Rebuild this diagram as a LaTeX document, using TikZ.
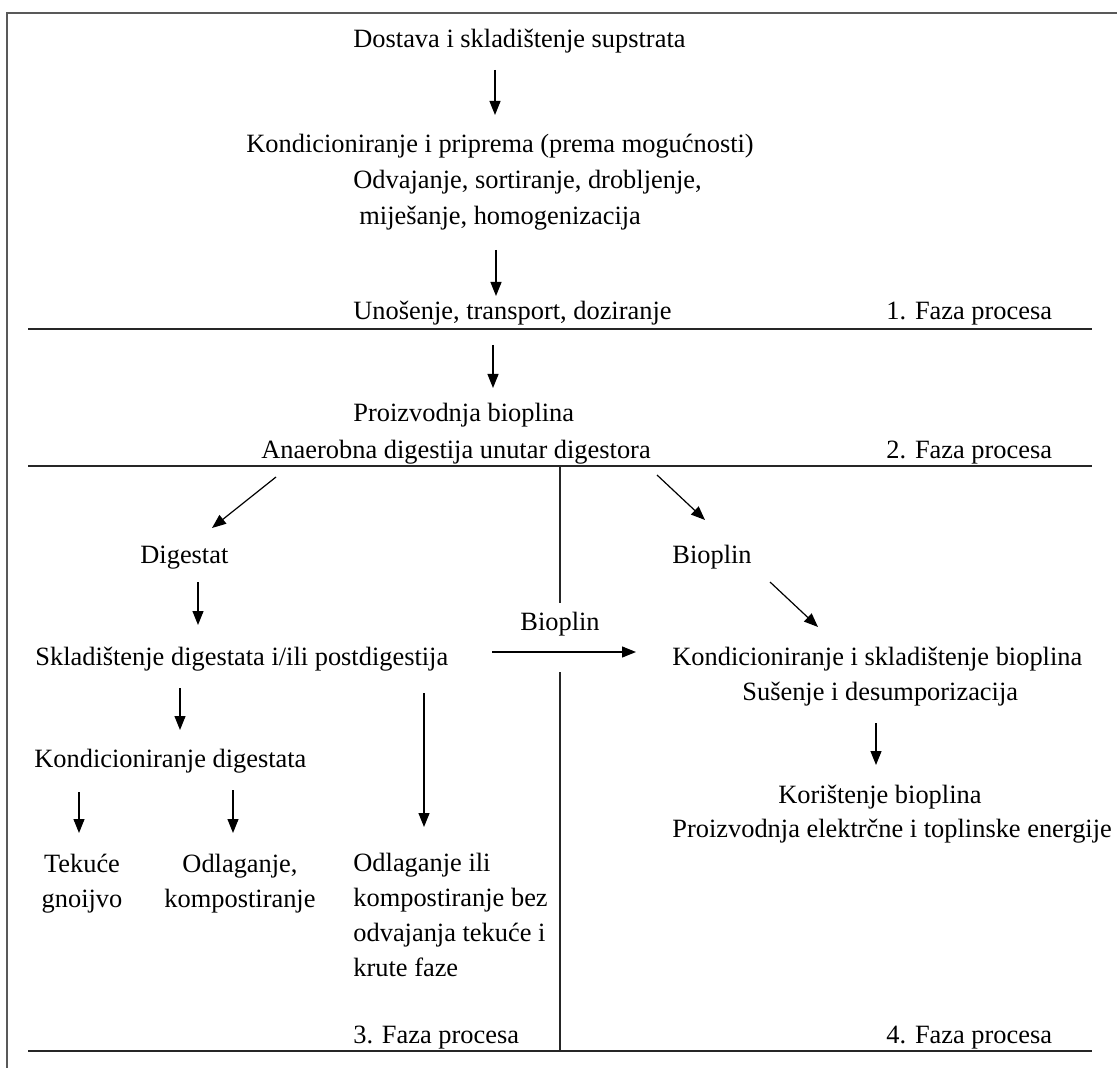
\documentclass[tikz,border=0pt]{standalone}
\usepackage{fontspec}
\setmainfont{Liberation Serif}
\usepackage{xcolor}
\usetikzlibrary{arrows.meta,positioning}
\tikzset{
  txt/.style={anchor=base west, inner sep=0pt, font=\fontsize{13.2}{17.4}\selectfont},
  ctxt/.style={txt, anchor=base, align=center},
  ltxt/.style={txt, align=left},
  arr/.style={-{Triangle[length=7pt,width=5.5pt]}, line width=0.6pt},
  divider/.style={line width=0.8pt, draw=black!85},
  frame/.style={line width=1pt, draw=black!65}
}

\begin{document}
\begin{tikzpicture}[x=0.5pt, y=-0.5pt]
  \useasboundingbox (0,0) rectangle (1117,1068);
  % frame and phase dividers
  \draw[frame] (1117,13) -- (7,13) -- (7,1068);
  \draw[divider] (28,329) -- (1092,329);
  \draw[divider] (28,466) -- (1092,466);
  \draw[divider] (28,1051) -- (1092,1051);
  \draw[divider] (560,466) -- (560,603);
  \draw[divider] (560,672) -- (560,1051);

  % phase 1
  \node[txt] (deliver) at (353,48) {Dostava i skladištenje supstrata};
  \node[txt] (prep) at (246,153) {Kondicioniranje i priprema (prema mogućnosti)};
  \node[txt] (prepa) at (353,189) {Odvajanje, sortiranje, drobljenje,};
  \node[txt] (prepb) at (359,225) {miješanje, homogenizacija};
  \node[txt] (feed) at (353,320) {Unošenje, transport, doziranje};
  \node[txt] (phase1) at (886,320) {1. Faza procesa};

  % phase 2
  \node[txt] (prod) at (353,422) {Proizvodnja bioplina};
  \node[txt] (proda) at (261,459) {Anaerobna digestija unutar digestora};
  \node[txt] (phase2) at (886,459) {2. Faza procesa};

  % phase 3 and 4
  \node[txt] (digestat) at (140,563) {Digestat};
  \node[txt] (biogas) at (672,563) {Bioplin};
  \node[txt] (biogasmid) at (520,630) {Bioplin};
  \node[txt] (store) at (35,665) {Skladištenje digestata i/ili postdigestija};
  \node[txt] (gascond) at (672,665) {Kondicioniranje i skladištenje bioplina};
  \node[txt] (gasdry) at (742,700) {Sušenje i desumporizacija};
  \node[txt] (digcond) at (34,767) {Kondicioniranje digestata};
  \node[txt] (gasuse) at (778,803) {Korištenje bioplina};
  \node[txt] (gasusea) at (672,837) {Proizvodnja elektrčne i toplinske energije};
  % base of a multi-line node sits on its last line
  \node[ctxt] (liquid) at (82,907) {Tekuće\\gnoijvo};
  \node[ctxt] (compost) at (240,907) {Odlaganje,\\kompostiranje};
  \node[ltxt] (nosep) at (353,976) {Odlaganje ili\\kompostiranje bez\\odvajanja tekuće i\\krute faze};
  \node[txt] (phase3) at (353,1043) {3. Faza procesa};
  \node[txt] (phase4) at (886,1043) {4. Faza procesa};

  % arrow ends
  \coordinate (a1) at (495,70);   \coordinate (b1) at (495,115);
  \coordinate (a2) at (496,250);  \coordinate (b2) at (496,296);
  \coordinate (a3) at (493,345);  \coordinate (b3) at (493,388);
  \coordinate (a4) at (276,477);  \coordinate (b4) at (212,528);
  \coordinate (a5) at (657,475);  \coordinate (b5) at (705,520);
  \coordinate (a6) at (198,582);  \coordinate (b6) at (198,625);
  \coordinate (a7) at (770,582);  \coordinate (b7) at (818,627);
  \coordinate (a8) at (492,652);  \coordinate (b8) at (636,652);
  \coordinate (a9) at (180,688);  \coordinate (b9) at (180,730);
  \coordinate (a10) at (424,693); \coordinate (b10) at (424,827);
  \coordinate (a11) at (876,723); \coordinate (b11) at (876,765);
  \coordinate (a12) at (79,792);  \coordinate (b12) at (79,833);
  \coordinate (a13) at (233,790); \coordinate (b13) at (233,833);

  \draw[arr] (a1) -- (b1);
  \draw[arr] (a2) -- (b2);
  \draw[arr] (a3) -- (b3);
  \draw[arr] (a4) -- (b4);
  \draw[arr] (a5) -- (b5);
  \draw[arr] (a6) -- (b6);
  \draw[arr] (a7) -- (b7);
  \draw[arr] (a8) -- (b8);
  \draw[arr] (a9) -- (b9);
  \draw[arr] (a10) -- (b10);
  \draw[arr] (a11) -- (b11);
  \draw[arr] (a12) -- (b12);
  \draw[arr] (a13) -- (b13);
\end{tikzpicture}
\end{document}
